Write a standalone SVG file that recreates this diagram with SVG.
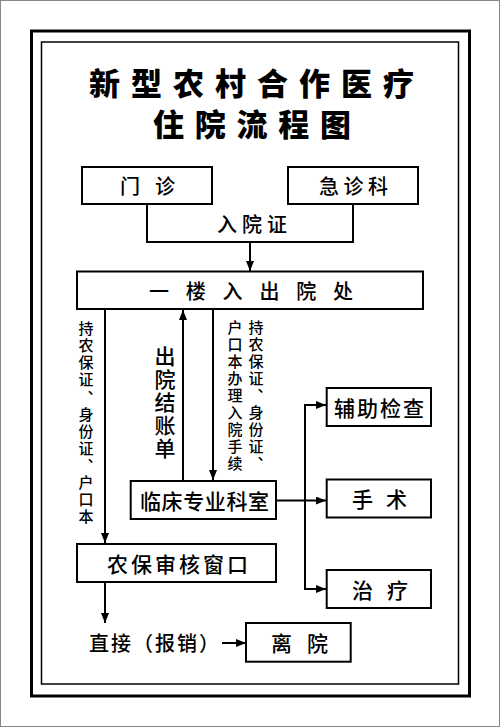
<svg xmlns="http://www.w3.org/2000/svg" width="500" height="727" viewBox="0 0 500 727">
<style>
.box{fill:#fff;stroke:#000;stroke-width:2}
.t{font-family:"Noto Sans CJK SC","Noto Sans CJK JP",sans-serif;font-weight:500;fill:#000}
.title{font-family:"Noto Sans CJK SC","Noto Sans CJK JP",sans-serif;font-weight:900;font-size:31px;fill:#000}
.vt{font-family:"Noto Sans CJK SC","Noto Sans CJK JP",sans-serif;font-weight:500;fill:#000;writing-mode:vertical-rl}
.c{fill:none;stroke:#000;stroke-width:2}
</style>
<defs>
<marker id="ah" markerUnits="userSpaceOnUse" markerWidth="10" markerHeight="8" refX="10" refY="4" orient="auto">
<path d="M0,0 L10,4 L0,8 z" fill="#000"/>
</marker>
</defs>
<rect width="500" height="727" fill="#fff"/>
<rect x="0.5" y="0.5" width="499" height="726" fill="none" stroke="#888" stroke-width="1"/>
<rect x="31.5" y="31" width="438" height="665" fill="none" stroke="#000" stroke-width="3"/>
<rect x="41.5" y="42" width="417" height="642" fill="none" stroke="#000" stroke-width="1.5"/>

<g id="title">
<text class="title" x="89" y="95" letter-spacing="11">新型农村合作医疗</text>
<text class="title" x="153" y="136" letter-spacing="10.75">住院流程图</text>
</g>

<g id="connectors">
<path class="c" d="M147,204 V242 H353 V204"/>
<path class="c" d="M250,242 V271" marker-end="url(#ah)"/>
<path class="c" d="M105,309 V543" marker-end="url(#ah)"/>
<path class="c" d="M183,481 V310" marker-end="url(#ah)"/>
<path class="c" d="M213,309 V480" marker-end="url(#ah)"/>
<path class="c" d="M276,500.5 H326" marker-end="url(#ah)"/>
<path class="c" d="M305,500.5 V405 H326" marker-end="url(#ah)"/>
<path class="c" d="M305,500.5 V589 H326" marker-end="url(#ah)"/>
<path class="c" d="M105,582 V623" marker-end="url(#ah)"/>
<path class="c" d="M222,643 H246" marker-end="url(#ah)"/>
</g>

<g id="edge-labels">
<text class="t" x="217" y="232" font-size="20" letter-spacing="5">入院证</text>
<text class="vt" x="86" y="321" font-size="15" letter-spacing="2.1">持农保证、身份证、户口本</text>
<text class="vt" x="165" y="346" font-size="21" letter-spacing="1.8">出院结账单</text>
<text class="vt" x="256" y="320" font-size="15" letter-spacing="2">持农保证、身份证、</text>
<text class="vt" x="235" y="320" font-size="15" letter-spacing="2">户口本办理入院手续</text>
<text class="t" x="89" y="651" font-size="20" letter-spacing="2">直接（报销）</text>
</g>

<g id="n-menzhen">
<rect class="box" x="82" y="167" width="130" height="37"/>
<text class="t" y="194" font-size="20"><tspan x="120">门 </tspan><tspan x="155">诊</tspan></text>
</g>
<g id="n-jizhenke">
<rect class="box" x="288" y="167" width="130" height="37"/>
<text class="t" x="319" y="194" font-size="20" letter-spacing="4.5">急诊科</text>
</g>
<g id="n-ruchuyuan">
<rect class="box" x="77" y="271.5" width="346" height="37.5"/>
<text class="t" x="149" y="299" font-size="20" letter-spacing="16.8">一楼入出院处</text>
</g>
<g id="n-linchuang">
<rect class="box" x="130.7" y="481" width="145.3" height="38"/>
<text class="t" x="140" y="509" font-size="21" letter-spacing="0.6">临床专业科室</text>
</g>
<g id="n-fuzhu">
<rect class="box" x="326.7" y="388" width="104.3" height="38"/>
<text class="t" x="334" y="416" font-size="21" letter-spacing="2">辅助检查</text>
</g>
<g id="n-shoushu">
<rect class="box" x="326.7" y="479.5" width="104.3" height="38"/>
<text class="t" y="507" font-size="21"><tspan x="352">手 </tspan><tspan x="386">术</tspan></text>
</g>
<g id="n-zhiliao">
<rect class="box" x="326.7" y="570" width="104.3" height="38"/>
<text class="t" y="598" font-size="21"><tspan x="352">治 </tspan><tspan x="387">疗</tspan></text>
</g>
<g id="n-nongbao">
<rect class="box" x="77" y="544" width="199" height="38"/>
<text class="t" x="107" y="572" font-size="21" letter-spacing="3">农保审核窗口</text>
</g>
<g id="n-liyuan">
<rect class="box" x="246" y="623" width="104.7" height="38.7"/>
<text class="t" y="651" font-size="21"><tspan x="271">离 </tspan><tspan x="307">院</tspan></text>
</g>
</svg>
